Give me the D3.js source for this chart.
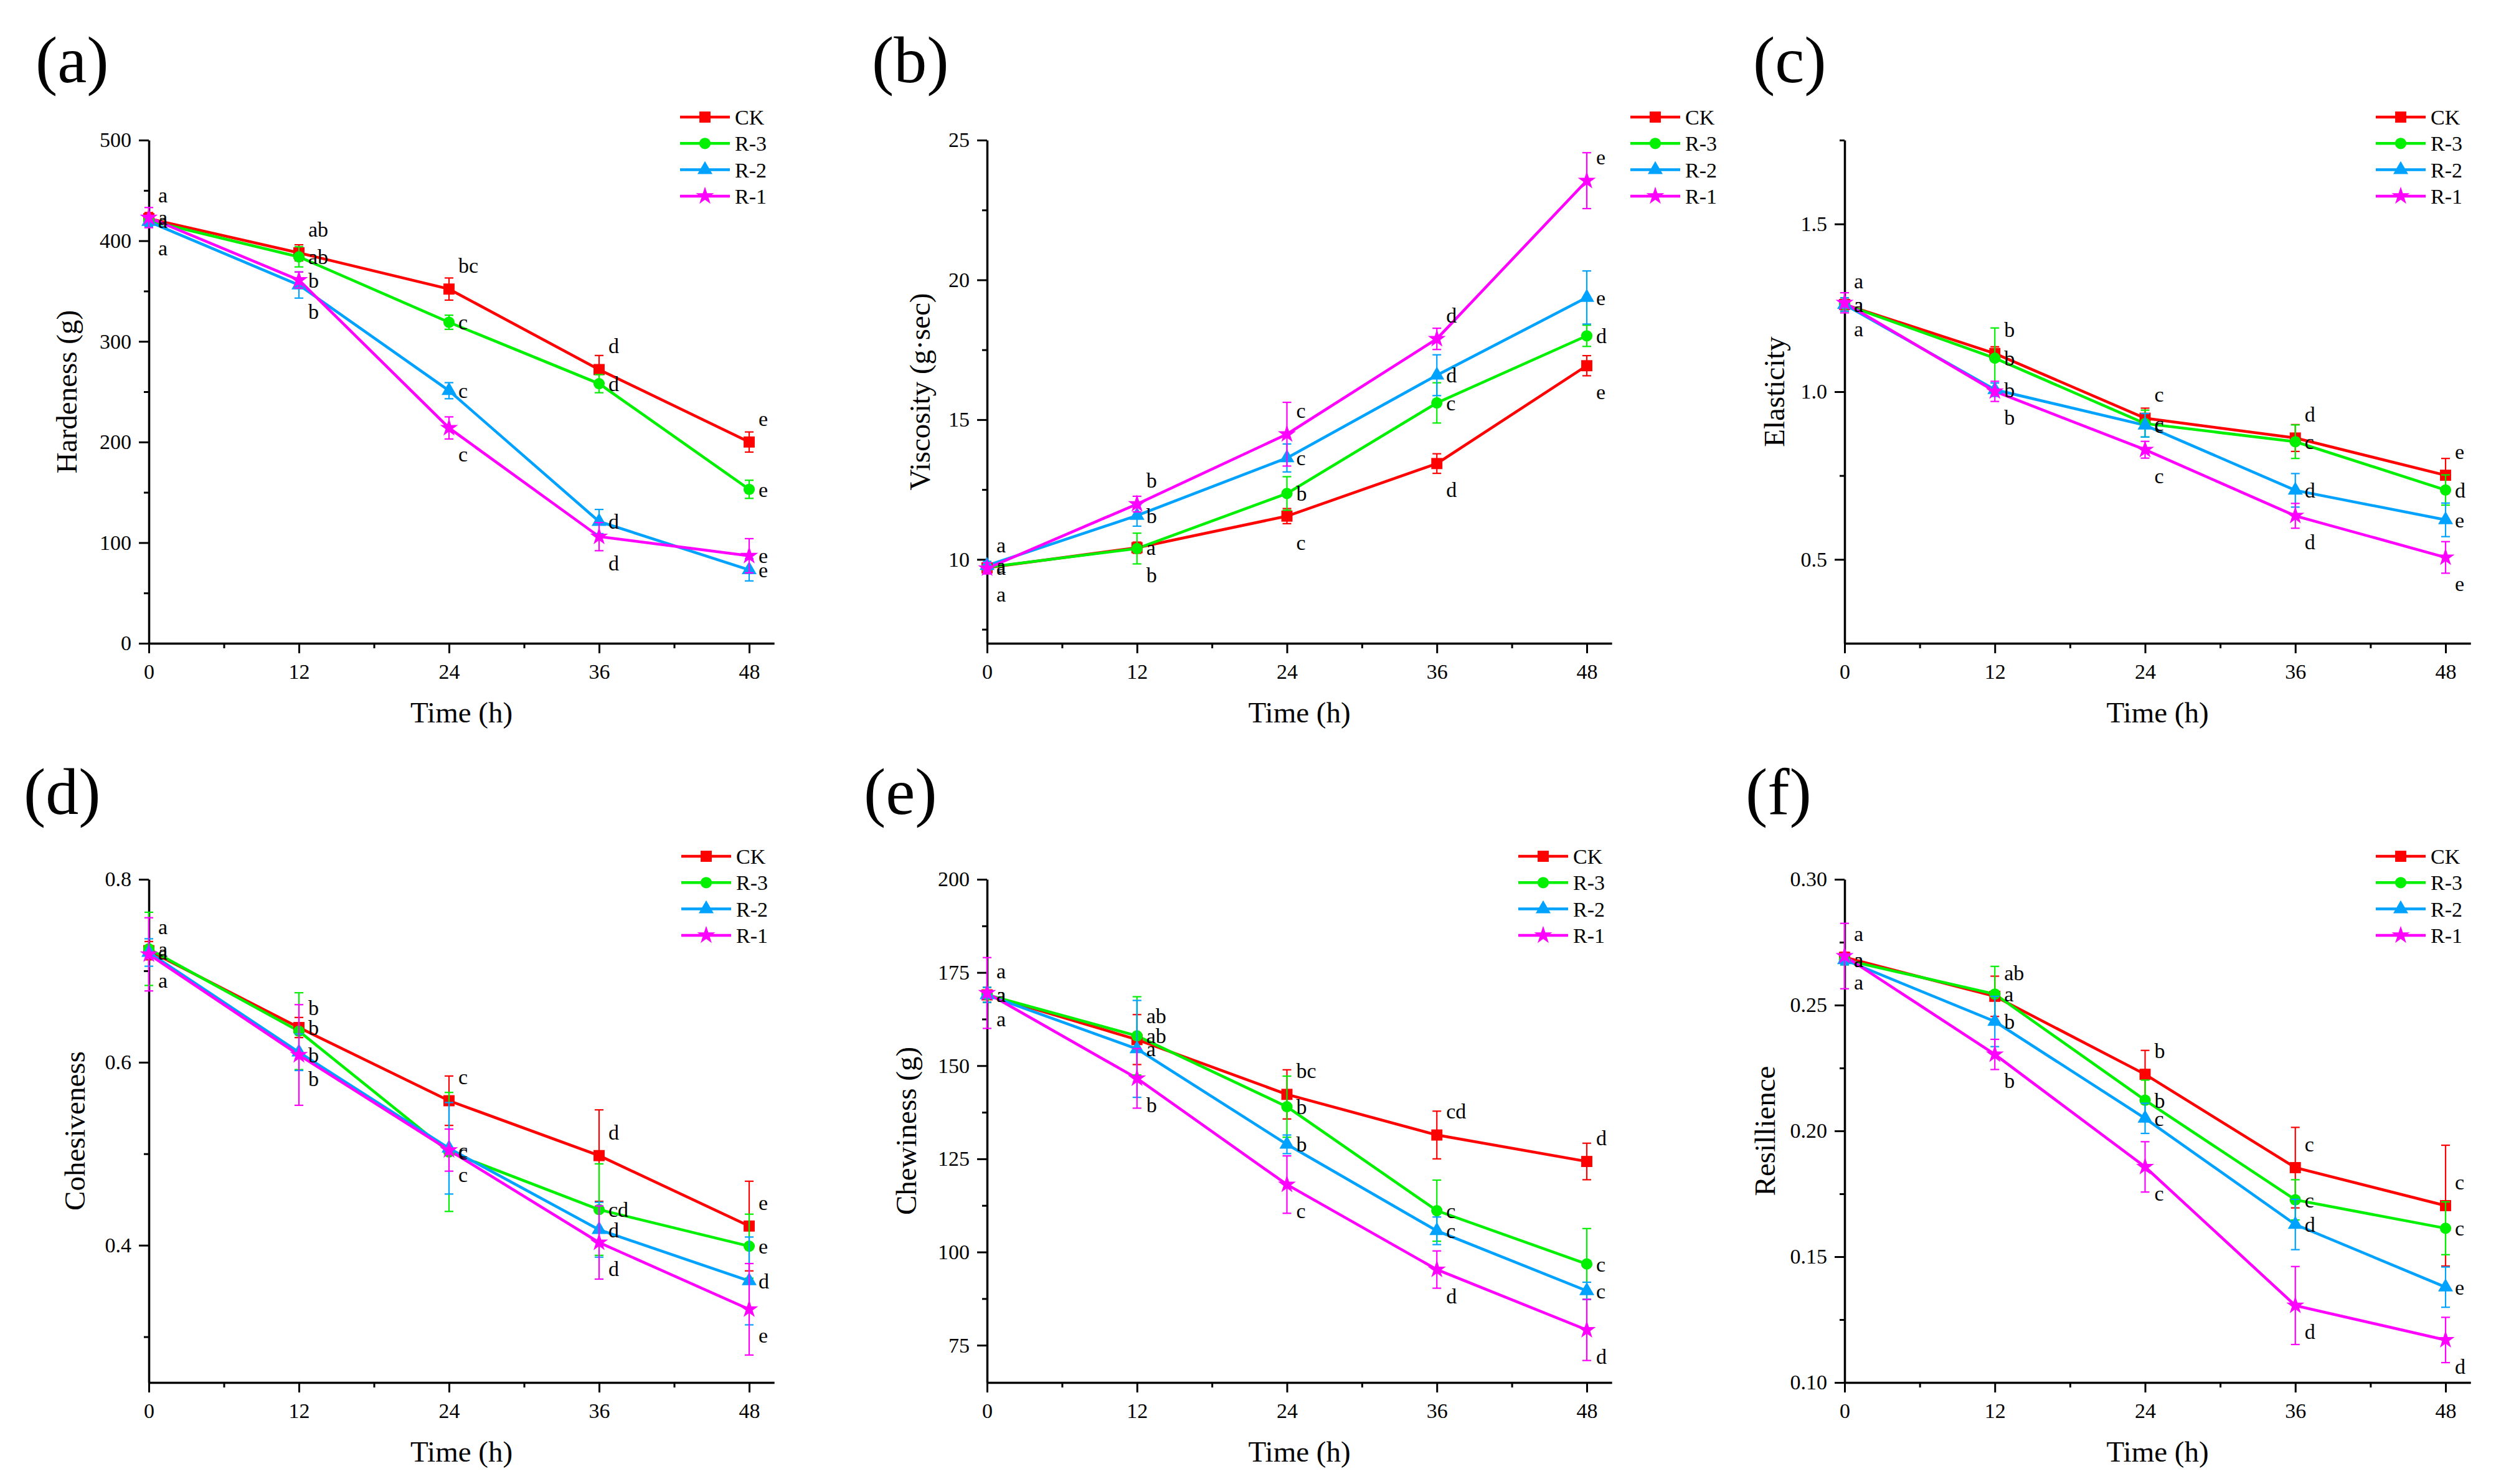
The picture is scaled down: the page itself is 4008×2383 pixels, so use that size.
<!DOCTYPE html>
<html>
<head>
<meta charset="utf-8">
<script src="https://cdn.jsdelivr.net/npm/d3@7/dist/d3.min.js"></script>
<style>
body { margin: 0; background: #fff; }
</style>
</head>
<body>
<div id="chart"></div>
<script>
var W = 4008, H = 2383;

var hours = [0, 12, 24, 36, 48];
var minorHours = [6, 18, 30, 42];
var seriesNames = ["CK", "R-3", "R-2", "R-1"];

// (a) hardness
var hardMean = [[422, 388, 352, 272, 200], [420, 384, 319, 258, 153], [419, 356, 251, 121, 73], [423, 361, 214, 106, 87]];
var hardErr = [[6, 8, 11, 14, 10], [5, 10, 7, 9, 9], [5, 13, 8, 12, 11], [10, 8, 11, 14, 17]];
var hardLetters = [["a", "ab", "bc", "d", "e"], ["a", "ab", "c", "d", "e"], ["a", "b", "c", "d", "e"], ["a", "b", "c", "d", "e"]];
var hardPos = [["u", "u", "u", "u", "u"], ["r", "r", "r", "r", "r"], ["d", "d", "r", "r", "r"], ["r", "r", "d", "d", "r"]];
var hardTicks = [0, 100, 200, 300, 400, 500];
var hardMinor = [50, 150, 250, 350, 450];

// (b) viscosity
var viscMean = [[9.70, 10.42, 11.55, 13.43, 16.93], [9.72, 10.39, 12.36, 15.60, 18.00], [9.78, 11.57, 13.63, 16.59, 19.37], [9.68, 11.98, 14.48, 17.89, 23.55]];
var viscErr = [[0.15, 0.2, 0.27, 0.35, 0.36], [0.15, 0.55, 0.6, 0.72, 0.38], [0.15, 0.38, 0.5, 0.73, 0.95], [0.2, 0.28, 1.14, 0.38, 1.0]];
var viscLetters = [["a", "a", "c", "d", "e"], ["a", "b", "b", "c", "d"], ["a", "b", "c", "d", "e"], ["a", "b", "c", "d", "e"]];
var viscPos = [["d", "r", "d", "d", "d"], ["r", "d", "r", "r", "r"], ["r", "r", "r", "r", "r"], ["u", "u", "u", "u", "u"]];
var viscTicks = [10, 15, 20, 25];
var viscMinor = [7.5, 12.5, 17.5, 22.5];

// (c) elasticity
var elasMean = [[1.26, 1.114, 0.921, 0.862, 0.751], [1.26, 1.10, 0.905, 0.851, 0.707], [1.26, 1.006, 0.90, 0.706, 0.618], [1.265, 1.001, 0.827, 0.630, 0.506]];
var elasErr = [[0.02, 0.02, 0.03, 0.04, 0.05], [0.02, 0.09, 0.04, 0.05, 0.045], [0.02, 0.02, 0.035, 0.05, 0.05], [0.03, 0.03, 0.025, 0.037, 0.047]];
var elasLetters = [["a", "b", "c", "d", "e"], ["a", "b", "c", "c", "d"], ["a", "b", "c", "d", "e"], ["a", "b", "c", "d", "e"]];
var elasPos = [["u", "u", "u", "u", "u"], ["r", "r", "r", "r", "r"], ["r", "r", "r", "r", "r"], ["d", "d", "d", "d", "d"]];
var elasTicks = [0.5, 1.0, 1.5];
var elasMinor = [0.75, 1.25, 1.75];

// (d) cohesiveness
var cohMean = [[0.722, 0.638, 0.558, 0.498, 0.421], [0.724, 0.634, 0.502, 0.439, 0.399], [0.720, 0.611, 0.506, 0.417, 0.361], [0.718, 0.608, 0.504, 0.403, 0.330]];
var cohErr = [[0.01, 0.011, 0.027, 0.05, 0.049], [0.04, 0.042, 0.065, 0.05, 0.035], [0.015, 0.02, 0.05, 0.03, 0.048], [0.04, 0.055, 0.023, 0.04, 0.05]];
var cohLetters = [["a", "b", "c", "d", "e"], ["a", "b", "c", "cd", "e"], ["a", "b", "c", "d", "d"], ["a", "b", "c", "d", "e"]];
var cohPos = [["u", "r", "u", "u", "u"], ["r", "u", "r", "r", "r"], ["r", "d", "d", "r", "r"], ["d", "r", "r", "d", "d"]];
var cohTicks = [0.4, 0.6, 0.8];
var cohMinor = [0.3, 0.5, 0.7];

// (e) chewiness
var chewMean = [[169, 157, 142.3, 131.4, 124.3], [169, 158, 139, 111.1, 96.8], [169, 154.5, 128.9, 105.7, 89.6], [169.5, 146.6, 118.1, 95.3, 79.1]];
var chewErr = [[2, 6.7, 6.6, 6.4, 4.9], [2, 10.5, 8.2, 8.2, 9.5], [2, 13, 2.5, 3.7, 2.3], [9.5, 8, 7.7, 5, 8.2]];
var chewLetters = [["a", "ab", "bc", "cd", "d"], ["a", "ab", "b", "c", "c"], ["a", "a", "b", "c", "c"], ["a", "b", "c", "d", "d"]];
var chewPos = [["u", "u", "u", "u", "u"], ["r", "r", "r", "r", "r"], ["r", "r", "r", "r", "r"], ["d", "d", "d", "d", "d"]];
var chewTicks = [75, 100, 125, 150, 175, 200];
var chewMinor = [87.5, 112.5, 137.5, 162.5, 187.5];

// (f) resilience
var resMean = [[0.269, 0.2535, 0.2225, 0.1854, 0.1703], [0.268, 0.2544, 0.2122, 0.1726, 0.1613], [0.268, 0.2435, 0.205, 0.1628, 0.1379], [0.2695, 0.2304, 0.1857, 0.1306, 0.1169]];
var resErr = [[0.002, 0.008, 0.0095, 0.016, 0.024], [0.002, 0.011, 0.008, 0.008, 0.0105], [0.002, 0.01, 0.006, 0.01, 0.008], [0.013, 0.006, 0.01, 0.0155, 0.009]];
var resLetters = [["a", "ab", "b", "c", "c"], ["a", "a", "b", "c", "c"], ["a", "b", "c", "d", "e"], ["a", "b", "c", "d", "d"]];
var resPos = [["u", "u", "u", "u", "u"], ["r", "r", "r", "r", "r"], ["r", "r", "r", "r", "r"], ["d", "d", "d", "d", "d"]];
var resTicks = [0.10, 0.15, 0.20, 0.25, 0.30];
var resMinor = [0.125, 0.175, 0.225, 0.275];

// styles and layout
var colors = ["#ff0000", "#00f000", "#00a2ff", "#ff00ff"];
var symbols = [d3.symbolSquare, d3.symbolCircle, d3.symbolTriangle, d3.symbolStar];
var symSizes = [320, 260, 250, 260];
var font = "'Liberation Serif', 'Times New Roman', serif";

var colX0 = [239, 1585, 2962];
var colX48 = [1203, 2548, 3927];
var rowTop = [225, 1412];
var rowBottom = [1033, 2220];
var tagBase = [132, 1307];
var letterDy = { u: -38, r: 0, d: 42 };

var panels = [
    { tag: "(a)", title: "Hardeness (g)", mean: hardMean, err: hardErr, letters: hardLetters, pos: hardPos,
      domain: [0, 500], ticks: hardTicks, minor: hardMinor, fmt: "d", col: 0, row: 0, titleDx: -132, legendX: 1092, tagX: 57 },
    { tag: "(b)", title: "Viscosity (g\u00b7sec)", mean: viscMean, err: viscErr, letters: viscLetters, pos: viscPos,
      domain: [7, 25], ticks: viscTicks, minor: viscMinor, fmt: "d", col: 1, row: 0, titleDx: -108, legendX: 2618, tagX: 1400 },
    { tag: "(c)", title: "Elasticity", mean: elasMean, err: elasErr, letters: elasLetters, pos: elasPos,
      domain: [0.25, 1.75], ticks: elasTicks, minor: elasMinor, fmt: ".1f", col: 2, row: 0, titleDx: -113, legendX: 3815, tagX: 2815 },
    { tag: "(d)", title: "Cohesiveness", mean: cohMean, err: cohErr, letters: cohLetters, pos: cohPos,
      domain: [0.25, 0.8], ticks: cohTicks, minor: cohMinor, fmt: ".1f", col: 0, row: 1, titleDx: -119, legendX: 1094, tagX: 38 },
    { tag: "(e)", title: "Chewiness (g)", mean: chewMean, err: chewErr, letters: chewLetters, pos: chewPos,
      domain: [65, 200], ticks: chewTicks, minor: chewMinor, fmt: "d", col: 1, row: 1, titleDx: -130, legendX: 2438, tagX: 1387 },
    { tag: "(f)", title: "Resillience", mean: resMean, err: resErr, letters: resLetters, pos: resPos,
      domain: [0.10, 0.30], ticks: resTicks, minor: resMinor, fmt: ".2f", col: 2, row: 1, titleDx: -128, legendX: 3815, tagX: 2803 }
];

var svg = d3.select("#chart").append("svg")
    .attr("width", W).attr("height", H)
    .attr("font-family", font)
    .style("background", "#fff");

function styleAxis(g) {
    g.selectAll("path.domain").attr("stroke", "#000").attr("stroke-width", 3.5);
    g.selectAll(".tick line").attr("stroke", "#000").attr("stroke-width", 3);
    g.selectAll(".tick text").attr("font-family", font).attr("font-size", 34).attr("fill", "#000");
}

function drawPanel(p) {
    var x0 = colX0[p.col], x48 = colX48[p.col];
    var step = (x48 - x0) / 48;
    var x = d3.scaleLinear().domain([0, 50]).range([x0, x0 + 50 * step]);
    var top = rowTop[p.row], bottom = rowBottom[p.row];
    var y = d3.scaleLinear().domain(p.domain).range([bottom, top]);
    var g = svg.append("g");

    // axes
    var xa = g.append("g").attr("transform", "translate(0," + bottom + ")")
        .call(d3.axisBottom(x).tickValues(hours).tickSize(16).tickSizeOuter(0).tickPadding(17).tickFormat(d3.format("d")));
    styleAxis(xa);
    var xm = g.append("g").attr("transform", "translate(0," + bottom + ")")
        .call(d3.axisBottom(x).tickValues(minorHours).tickSize(8).tickFormat(""));
    xm.select("path.domain").remove();
    styleAxis(xm);

    var ya = g.append("g").attr("transform", "translate(" + x0 + ",0)")
        .call(d3.axisLeft(y).tickValues(p.ticks).tickSize(16).tickSizeOuter(0).tickPadding(12).tickFormat(d3.format(p.fmt)));
    styleAxis(ya);
    var ym = g.append("g").attr("transform", "translate(" + x0 + ",0)")
        .call(d3.axisLeft(y).tickValues(p.minor).tickSize(8).tickFormat(""));
    ym.select("path.domain").remove();
    styleAxis(ym);

    // titles
    g.append("text").attr("x", (x0 + x(50)) / 2).attr("y", bottom + 127)
        .attr("text-anchor", "middle").attr("font-size", 47).text("Time (h)");
    g.append("text")
        .attr("transform", "translate(" + (x0 + p.titleDx) + "," + ((top + bottom) / 2) + ") rotate(-90)")
        .attr("text-anchor", "middle").attr("dy", "0.35em").attr("font-size", 47).text(p.title);
    g.append("text").attr("x", p.tagX).attr("y", tagBase[p.row])
        .attr("font-size", 106).text(p.tag);

    var line = d3.line().x(function (d, i) { return x(hours[i]); }).y(function (d) { return y(d); });

    // lines
    p.mean.forEach(function (vals, s) {
        g.append("path").datum(vals).attr("d", line)
            .attr("fill", "none").attr("stroke", colors[s]).attr("stroke-width", 4.5);
    });

    // error bars and markers
    p.mean.forEach(function (vals, s) {
        var eg = g.append("g").attr("stroke", colors[s]).attr("stroke-width", 2.2);
        vals.forEach(function (v, i) {
            var e = p.err[s][i], cx = x(hours[i]);
            eg.append("line").attr("x1", cx).attr("x2", cx).attr("y1", y(v - e)).attr("y2", y(v + e));
            eg.append("line").attr("x1", cx - 7).attr("x2", cx + 7).attr("y1", y(v - e)).attr("y2", y(v - e));
            eg.append("line").attr("x1", cx - 7).attr("x2", cx + 7).attr("y1", y(v + e)).attr("y2", y(v + e));
        });
        g.append("g").selectAll("path").data(vals).join("path")
            .attr("d", d3.symbol().type(symbols[s]).size(symSizes[s]))
            .attr("transform", function (d, i) { return "translate(" + x(hours[i]) + "," + y(d) + ")"; })
            .attr("fill", colors[s]);
    });

    // significance letters
    p.mean.forEach(function (vals, s) {
        vals.forEach(function (v, i) {
            g.append("text")
                .attr("x", x(hours[i]) + 15)
                .attr("y", y(v) + letterDy[p.pos[s][i]])
                .attr("dy", "0.35em").attr("font-size", 34).text(p.letters[s][i]);
        });
    });

    // legend
    seriesNames.forEach(function (name, s) {
        var ly = top - 37 + s * 42.3, lx = p.legendX;
        g.append("line").attr("x1", lx).attr("x2", lx + 80).attr("y1", ly).attr("y2", ly)
            .attr("stroke", colors[s]).attr("stroke-width", 4.5);
        g.append("path").attr("d", d3.symbol().type(symbols[s]).size(symSizes[s]))
            .attr("transform", "translate(" + (lx + 40) + "," + ly + ")").attr("fill", colors[s]);
        g.append("text").attr("x", lx + 88).attr("y", ly).attr("dy", "0.35em")
            .attr("font-size", 34).text(name);
    });
}

panels.forEach(drawPanel);
</script>
</body>
</html>
